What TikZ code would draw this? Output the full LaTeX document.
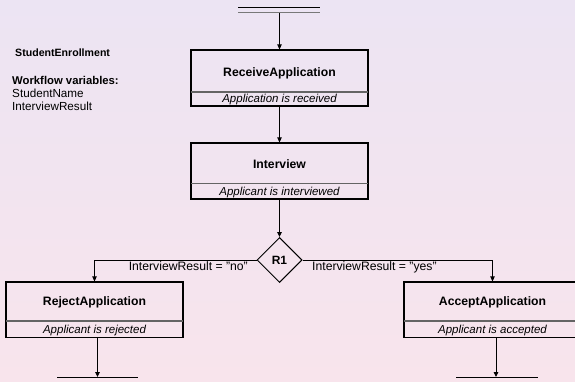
\documentclass[tikz,border=0pt]{standalone}
\usepackage{fontspec}
\setmainfont{Liberation Sans}
\usetikzlibrary{arrows.meta,shapes.geometric}
\definecolor{bgtop}{RGB}{236,228,243}
\definecolor{bgbot}{RGB}{248,228,236}
\definecolor{divc}{RGB}{100,100,100}
\definecolor{barc}{RGB}{120,120,120}
\newcommand{\sq}{\symbol{34}}
\begin{document}
\begin{tikzpicture}[x=1pt,y=-1pt,
  conn/.style={draw=black, line width=0.9pt, -{Triangle[length=5pt,width=4.5pt]}},
  actbox/.style={draw=black, line width=1.2pt, rectangle, minimum width=177pt, inner sep=0pt},
  divider/.style={draw=divc, line width=1.2pt},
  titletext/.style={font=\fontsize{12.2}{14}\selectfont\bfseries, inner sep=0pt, anchor=base},
  subtext/.style={font=\fontsize{11.5}{13}\selectfont\itshape, inner sep=0pt, anchor=base},
  labeltext/.style={font=\fontsize{12.2}{14}\selectfont, inner sep=0pt},
  infotext/.style={font=\fontsize{11.7}{13}\selectfont, inner sep=0pt, anchor=base west},
  bartop/.style={draw=black, line width=1pt},
  barbot/.style={draw=barc, line width=1pt},
  decision/.style={diamond, draw=black, line width=1pt, minimum width=45pt, minimum height=45pt, inner sep=0pt, aspect=1, font=\fontsize{12}{14}\selectfont\bfseries}
]
\shade[top color=bgtop, bottom color=bgbot] (0,0) rectangle (575,382);
\useasboundingbox (0,0) rectangle (575,382);

% info text
\node[infotext, font=\fontsize{10.6}{13}\selectfont\bfseries] (wfname) at (15,56.5) {StudentEnrollment};
\node[infotext, font=\fontsize{11.3}{13}\selectfont\bfseries] (wfvars) at (12,84.5) {Workflow variables:};
\node[infotext] (var1) at (12,98) {StudentName};
\node[infotext] (var2) at (12,111) {InterviewResult};

% start bar
\draw[bartop] (238,8) -- (320,8);
\draw[barbot] (238,13) -- (320,13);
\coordinate (start) at (279.5,13);

% boxes
\node[actbox, minimum height=56pt] (ra) at (279.5,78) {};
\draw[divider] (191,92) -- (368,92);
\node[titletext] (ratitle) at (279.5,76.5) {ReceiveApplication};
\node[subtext] (rasub) at (279.5,102.5) {Application is received};

\node[actbox, minimum height=56pt] (iv) at (279.5,171) {};
\draw[divider] (191,183.5) -- (368,183.5);
\node[titletext] (ivtitle) at (279.5,168.5) {Interview};
\node[subtext] (ivsub) at (279.5,195.5) {Applicant is interviewed};

\node[decision] (r1) at (279.5,260) {R1};

\node[actbox, minimum height=55.5pt] (rj) at (94.5,309.75) {};
\draw[divider] (6,321) -- (183,321);
\node[titletext] (rjtitle) at (94.5,305.5) {RejectApplication};
\node[subtext] (rjsub) at (94.5,333.5) {Applicant is rejected};

\node[actbox, minimum height=55.5pt] (ac) at (492.5,309.75) {};
\draw[divider] (404,321) -- (581,321);
\node[titletext] (actitle) at (492.5,305.5) {AcceptApplication};
\node[subtext] (acsub) at (492.5,333.5) {Applicant is accepted};

% end bars
\draw[bartop] (57,377) -- (138,377);
\draw[barbot] (57,382) -- (138,382);
\coordinate (end1) at (97.5,377);
\draw[bartop] (456,377) -- (538,377);
\draw[barbot] (456,382) -- (538,382);
\coordinate (end2) at (496,377);

% connectors
\draw[conn] (start) -- (ra.north);
\draw[conn] (ra.south) -- (iv.north);
\draw[conn] (iv.south) -- (r1.north);
\draw[conn] (r1.west) -| (rj.north);
\draw[conn] (r1.east) -| (ac.north);
\draw[conn] (rj.south -| end1) -- (end1);
\draw[conn] (ac.south -| end2) -- (end2);

% edge labels
\node[labeltext, anchor=base east] (lno) at (248,270) {InterviewResult = \sq no\sq};
\node[labeltext, anchor=base west] (lyes) at (312,270) {InterviewResult = \sq yes\sq};
\end{tikzpicture}
\end{document}
